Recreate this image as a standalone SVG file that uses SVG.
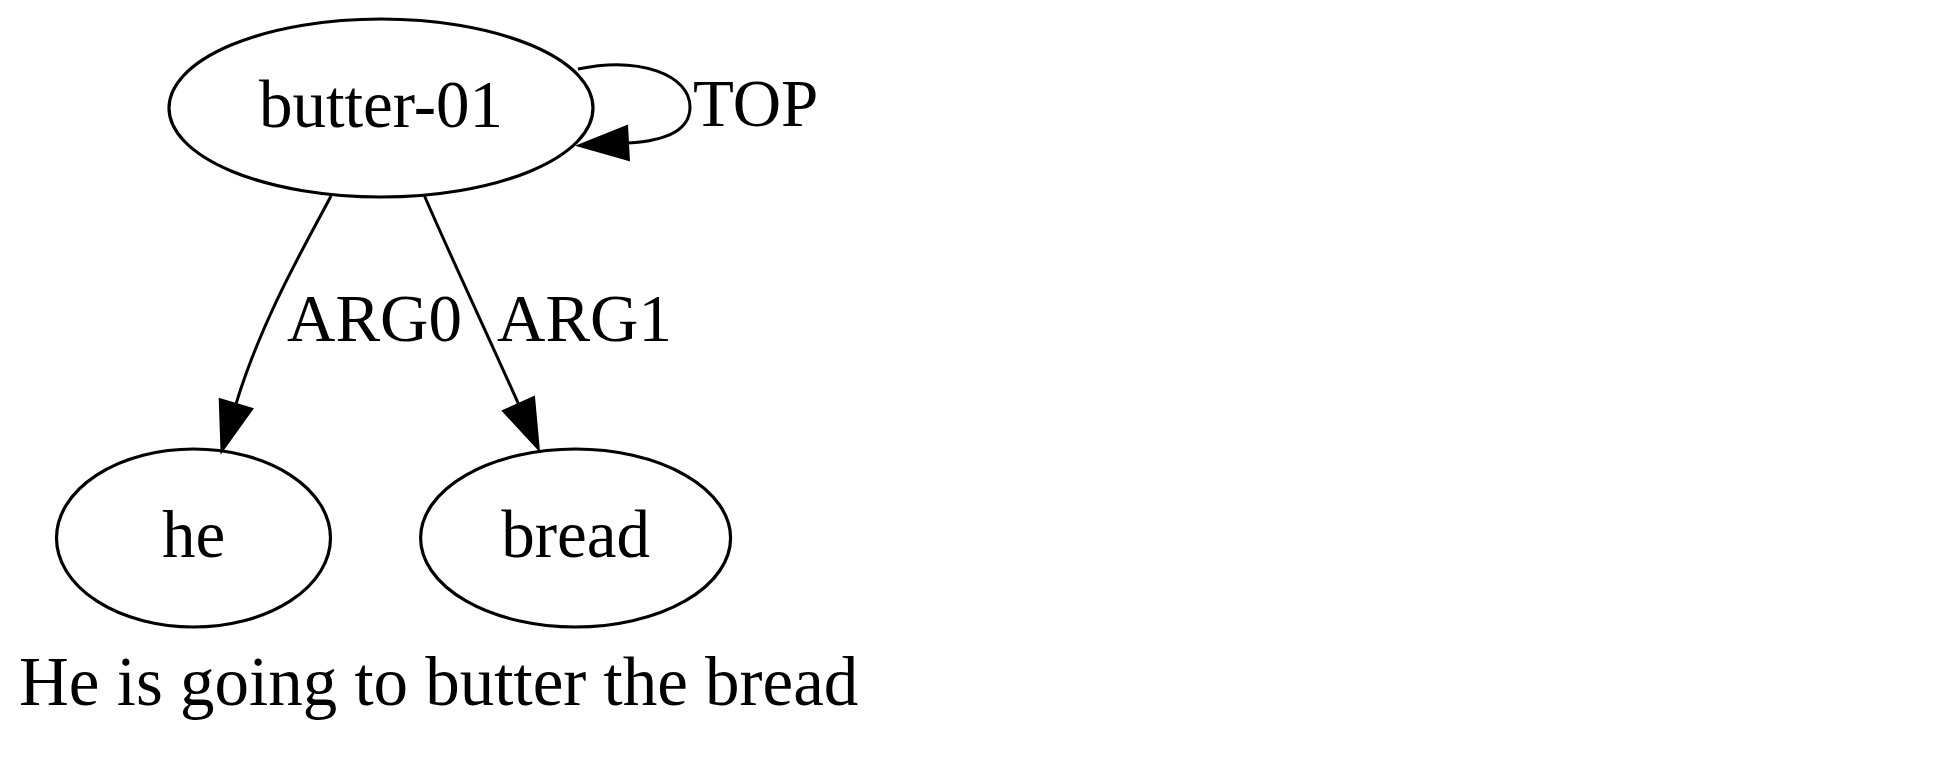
<svg xmlns="http://www.w3.org/2000/svg" width="1958" height="779" viewBox="0 0 1958 779">
<style>
.node ellipse{fill:none;stroke:#000;stroke-width:3.2}
text{font-family:"Liberation Serif","Times New Roman",serif;font-size:67px;fill:#000}
.mid{text-anchor:middle}
.edge path{fill:none;stroke:#000;stroke-width:3}
</style>
<defs>
<marker id="arr" markerUnits="userSpaceOnUse" markerWidth="60" markerHeight="40" viewBox="0 -20 60 40" refX="0" refY="0" orient="auto" overflow="visible">
<polygon points="0,-17 50,0 0,17" fill="#000" stroke="#000" stroke-width="2"/>
</marker>
</defs>
<rect width="1958" height="779" fill="#fff"/>
<g id="connectors" class="edge">
<g id="e-top"><path d="M578,69 C640,56 690,75 690,107 C690,131 665,141 628,143" marker-end="url(#arr)"/><text x="693" y="126">TOP</text></g>
<g id="e-arg0"><path d="M331,196 C308,240 262,318 236,404" marker-end="url(#arr)"/><text x="287" y="341">ARG0</text></g>
<g id="e-arg1"><path d="M424.5,196 C450,255 490,340 518.5,404" marker-end="url(#arr)"/><text x="497" y="341">ARG1</text></g>
</g>
<g id="n-butter" class="node"><ellipse cx="381" cy="108" rx="212" ry="89"/><text class="mid" x="381" y="127">butter-01</text></g>
<g id="n-he" class="node"><ellipse cx="193.5" cy="538" rx="137" ry="89"/><text class="mid" x="193.5" y="557">he</text></g>
<g id="n-bread" class="node"><ellipse cx="575.6" cy="538" rx="155" ry="89"/><text class="mid" x="575.6" y="557">bread</text></g>
<text id="caption" x="19" y="705" style="font-size:69px">He is going to butter the bread</text>
</svg>
